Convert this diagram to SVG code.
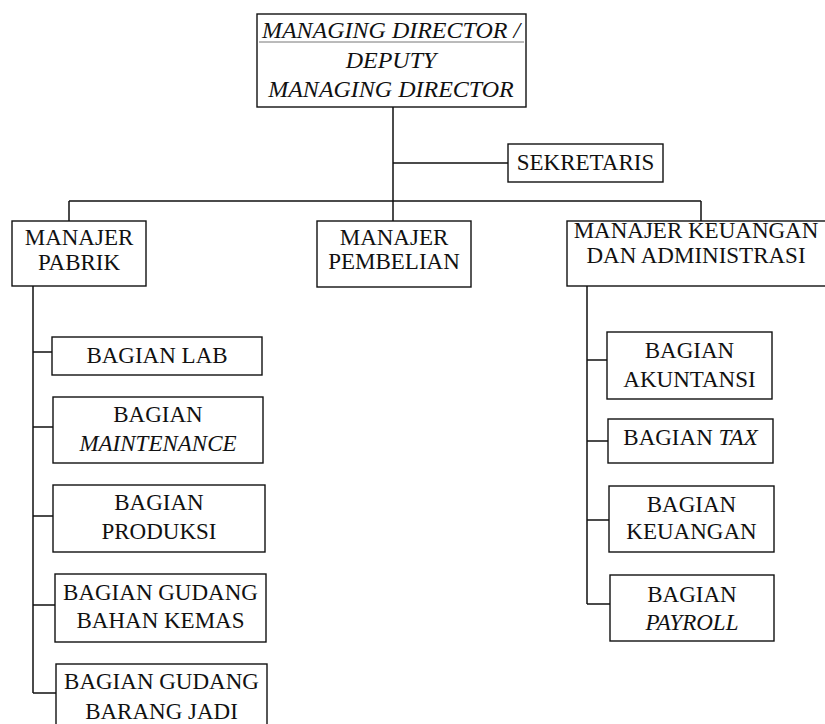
<svg xmlns="http://www.w3.org/2000/svg" width="825" height="724" viewBox="0 0 825 724">
<style>
.box{fill:#fff;stroke:#111;stroke-width:1.4}
.t{font-family:"Liberation Serif","Times New Roman",serif;font-size:23px;fill:#111;text-anchor:middle}
.i{font-style:italic}
.big{font-size:24px}
.c{fill:none;stroke:#111;stroke-width:1.5}
</style>
<rect width="825" height="724" fill="#fff"/>
<g id="connectors">
<path class="c" d="M393,107V221M393,163H508M69,201H701M69,201V221M701,201V221"/>
<path class="c" d="M33,286V693M33,352H52M33,427H53M33,516H53M33,605H55M33,693H56"/>
<path class="c" d="M587,286V604M587,360H607M587,441H608M587,520H609M587,604H610"/>
</g>
<g id="md">
<rect class="box" x="257" y="14" width="269" height="93"/>
<line x1="259" y1="42" x2="524" y2="42" stroke="#777" stroke-width="1"/>
<text class="t i big" x="391" y="38">MANAGING DIRECTOR /</text>
<text class="t i big" x="391" y="68">DEPUTY</text>
<text class="t i big" x="391" y="97">MANAGING DIRECTOR</text>
</g>
<g id="sekretaris">
<rect class="box" x="508" y="144" width="155" height="38"/>
<text class="t" x="585.5" y="170">SEKRETARIS</text>
</g>
<g id="manajer-pabrik">
<rect class="box" x="12" y="221" width="134" height="65"/>
<text class="t" x="79" y="245">MANAJER</text>
<text class="t" x="79" y="270">PABRIK</text>
</g>
<g id="manajer-pembelian">
<rect class="box" x="317" y="221" width="154" height="66"/>
<text class="t" x="394" y="245">MANAJER</text>
<text class="t" x="394" y="269">PEMBELIAN</text>
</g>
<g id="manajer-keuangan">
<rect class="box" x="567" y="221" width="260" height="65"/>
<text class="t" x="696" y="238">MANAJER KEUANGAN</text>
<text class="t" x="696" y="263">DAN ADMINISTRASI</text>
</g>
<g id="bagian-lab">
<rect class="box" x="52" y="337" width="210" height="38"/>
<text class="t" x="157" y="363">BAGIAN LAB</text>
</g>
<g id="bagian-maintenance">
<rect class="box" x="53" y="397" width="210" height="66"/>
<text class="t" x="158" y="422">BAGIAN</text>
<text class="t i" x="158" y="451">MAINTENANCE</text>
</g>
<g id="bagian-produksi">
<rect class="box" x="53" y="485" width="212" height="67"/>
<text class="t" x="159" y="510">BAGIAN</text>
<text class="t" x="159" y="539">PRODUKSI</text>
</g>
<g id="bagian-gudang-bahan">
<rect class="box" x="55" y="574" width="211" height="68"/>
<text class="t" x="160.5" y="600">BAGIAN GUDANG</text>
<text class="t" x="160.5" y="628">BAHAN KEMAS</text>
</g>
<g id="bagian-gudang-barang">
<rect class="box" x="56" y="664" width="211" height="64"/>
<text class="t" x="161.5" y="689">BAGIAN GUDANG</text>
<text class="t" x="161.5" y="719">BARANG JADI</text>
</g>
<g id="bagian-akuntansi">
<rect class="box" x="607" y="332" width="165" height="67"/>
<text class="t" x="689.5" y="358">BAGIAN</text>
<text class="t" x="689.5" y="387">AKUNTANSI</text>
</g>
<g id="bagian-tax">
<rect class="box" x="608" y="419" width="165" height="44"/>
<text class="t" x="690.5" y="445">BAGIAN <tspan class="i">TAX</tspan></text>
</g>
<g id="bagian-keuangan">
<rect class="box" x="609" y="486" width="165" height="66"/>
<text class="t" x="691.5" y="512">BAGIAN</text>
<text class="t" x="691.5" y="539">KEUANGAN</text>
</g>
<g id="bagian-payroll">
<rect class="box" x="610" y="575" width="164" height="66"/>
<text class="t" x="692" y="602">BAGIAN</text>
<text class="t i" x="692" y="630">PAYROLL</text>
</g>
</svg>
